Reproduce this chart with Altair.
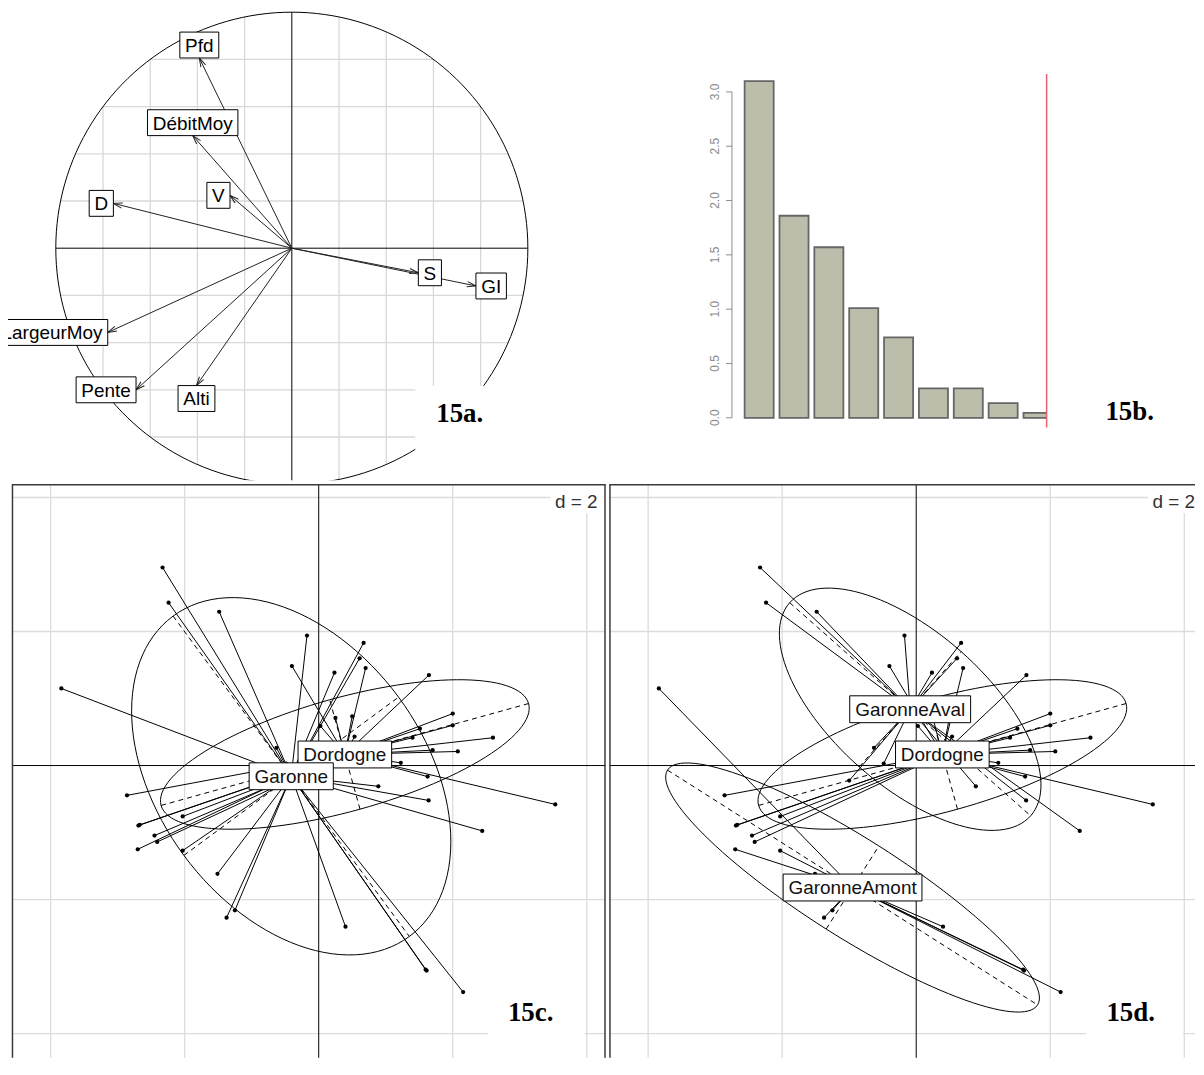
import altair as alt
import pandas as pd

SANS = "Liberation Sans"
SERIF = "Liberation Serif"
LABEL_PX = 19

# ---------------------------------------------------------------- 15a data
var_names = ["Pfd", "DébitMoy", "V", "D", "S", "GI", "LargeurMoy", "Pente", "Alti"]
var_x = [-0.392, -0.420, -0.262, -0.756, 0.536, 0.780, -0.780, -0.660, -0.404]
var_y = [0.806, 0.477, 0.224, 0.190, -0.104, -0.160, -0.357, -0.600, -0.582]
circle_radius = [1.0]
circle_grid = [-0.8, -0.6, -0.4, -0.2, 0.2, 0.4, 0.6, 0.8]
circle_axes = [0.0]

# ---------------------------------------------------------------- 15b data
eig_rank = [1, 2, 3, 4, 5, 6, 7, 8, 9]
eig_values = [3.10, 1.86, 1.57, 1.01, 0.74, 0.27, 0.27, 0.135, 0.045]
eig_ticks = [0.0, 0.5, 1.0, 1.5, 2.0, 2.5, 3.0]

# ---------------------------------------------------------------- 15c / 15d data
pt_x = [-2.33, -2.24, -1.485, -0.175, 0.67, 0.61, 0.70, -0.40, 0.235, 1.645,
        -3.84, 0.25, 0.50, 0.535, 0.025, 2.00, 2.00, 1.51, 1.40, 2.60,
        1.70, 2.075, 1.225, 1.625, 0.89, 1.64, 3.53, 2.44, -2.86, -2.69,
        -2.67, -2.03, -2.45, -2.41, -2.70, -2.03, -1.51, -1.375, -1.25, 0.40,
        1.61, 1.595, 2.155, -0.63, -0.485, -1.00]
pt_y = [2.955, 2.43, 2.295, 1.94, 1.83, 1.60, 1.455, 1.485, 1.385, 1.35,
        1.15, 0.71, 0.735, 0.433, 0.59, 0.775, 0.60, 0.55, 0.415, 0.415,
        0.23, 0.21, 0.04, -0.165, -0.31, -0.52, -0.58, -0.975, -0.445, -0.895,
        -0.885, -0.76, -1.045, -1.14, -1.25, -1.27, -1.615, -2.27, -2.16, -2.405,
        -3.06, -3.045, -3.38, 0.265, 0.03, -0.225]
AV, AM, DO = "GaronneAval", "GaronneAmont", "Dordogne"
pt_group = [AV, AV, AV, AV, AV, AV, DO, DO, AV, DO,
            AM, DO, DO, DO, DO, DO, DO, DO, DO, DO,
            DO, DO, DO, DO, AV, AV, DO, AV, DO, DO,
            DO, DO, DO, DO, AM, AM, AM, AM, AM, AM,
            AM, AM, AM, AV, AV, AV]

c2_names = ["Dordogne", "Garonne"]
c2_x = [0.39, -0.41]
c2_y = [0.165, -0.16]
c2_a = [2.845, 2.97]
c2_b = [0.847, 1.99]
c2_angle = [15.5, -53.6]

c3_names = ["Dordogne", "GaronneAmont", "GaronneAval"]
c3_x = [0.39, -0.95, -0.09]
c3_y = [0.165, -1.82, 0.84]
c3_a = [2.845, 3.27, 2.40]
c3_b = [0.847, 0.734, 1.148]
c3_angle = [15.5, -32.4, -41.5]

cd_grid = [-4, -2, 2, 4]
cd_axes = [0]
scale_note = ["d = 2"]
panel_tags = ["15a.", "15b.", "15c.", "15d."]

# ---------------------------------------------------------------- helpers
AFM = {" ": 278, "A": 667, "D": 722, "G": 778, "I": 278, "L": 556, "M": 833,
       "P": 667, "S": 667, "V": 667, "a": 556, "b": 556, "d": 556, "e": 556,
       "é": 556, "f": 278, "g": 556, "i": 222, "l": 222, "m": 833, "n": 556,
       "o": 556, "r": 333, "t": 278, "u": 556, "v": 500, "y": 500}


def box_w(s):
    return round(sum(AFM.get(ch, 556) for ch in " " + s + " ") * LABEL_PX / 1000.0, 1)


GRID_A = "#d8d8d8"
GRID_CD = "#dcdcdc"
FRAME = "#3a3a3a"
one = pd.DataFrame({"k": [0]})

# ================================================================ 15a
WA, HA = 532, 472
XA = alt.Scale(domain=[-1.2025, 1.042], nice=False, zero=False)
YA = alt.Scale(domain=[-0.9831, 1.0084], nice=False, zero=False)


def xa(f):
    return alt.X(f, scale=XA, axis=None)


def ya(f):
    return alt.Y(f, scale=YA, axis=None)


def chords(values, color, width):
    base = alt.Chart(pd.DataFrame({"g": values})).transform_calculate(
        hi="sqrt(1 - datum.g * datum.g)", lo="-sqrt(1 - datum.g * datum.g)")
    vert = base.mark_rule(color=color, strokeWidth=width, clip=True).encode(
        x=xa("g:Q"), y=ya("lo:Q"), y2="hi:Q")
    horiz = base.mark_rule(color=color, strokeWidth=width, clip=True).encode(
        y=ya("g:Q"), x=xa("lo:Q"), x2="hi:Q")
    return [vert, horiz]


circle = alt.Chart(pd.DataFrame({"r": circle_radius})).transform_calculate(
    t="sequence(0, 361, 2)").transform_flatten(["t"]).transform_calculate(
    cx="datum.r * cos(datum.t * PI / 180)", cy="datum.r * sin(datum.t * PI / 180)"
).mark_line(color="black", strokeWidth=1, clip=True).encode(
    x=xa("cx:Q"), y=ya("cy:Q"), order="t:Q")

vars_df = pd.DataFrame({"name": var_names, "x": var_x, "y": var_y,
                        "w": [box_w(n) for n in var_names]})
SIDE = ("abs(datum.x) > abs(datum.y) ? (datum.x > 0 ? 'right' : 'left') : "
        "(datum.y > 0 ? 'top' : 'bottom')")
PATH_A = ("'M' + (datum.side == 'right' ? 0 : (datum.side == 'left' ? -datum.w : -datum.w / 2)) + ',' + "
          "(datum.side == 'top' ? -26 : (datum.side == 'bottom' ? 0 : -13)) + "
          "'h' + datum.w + 'v26h' + (-datum.w) + 'z'")
vbase = alt.Chart(vars_df).transform_calculate(
    o="0", ang="(360 - atan2(datum.y, datum.x) * 180 / PI) % 360", side=SIDE)

arrows = vbase.mark_rule(color="#222222", strokeWidth=1, clip=True).encode(
    x=xa("o:Q"), y=ya("o:Q"), x2="x:Q", y2="y:Q")
heads = vbase.mark_point(shape="M-9,-2.6L0,0L-9,2.6", size=4, filled=False,
                         color="#222222", strokeWidth=1, opacity=1, clip=True).encode(
    x=xa("x:Q"), y=ya("y:Q"), angle=alt.Angle("ang:Q", scale=None))
boxes_a = vbase.transform_calculate(path=PATH_A).mark_point(
    filled=True, fill="white", stroke="black", strokeWidth=1, size=4, opacity=1,
    clip=True).encode(x=xa("x:Q"), y=ya("y:Q"), shape=alt.Shape("path:N", scale=None))

SIDE_TEXT = {"right": dict(align="left", dx=5.3, dy=1),
             "left": dict(align="right", dx=-5.3, dy=1),
             "top": dict(align="center", dy=-12),
             "bottom": dict(align="center", dy=14)}
texts_a = []
for side, kw in SIDE_TEXT.items():
    texts_a.append(vbase.transform_filter(f"datum.side == '{side}'").mark_text(
        font=SANS, fontSize=LABEL_PX, baseline="middle", color="black", clip=True, **kw
    ).encode(x=xa("x:Q"), y=ya("y:Q"), text="name:N"))

cover_a = alt.Chart(one).mark_rect(fill="white").encode(
    x=alt.value(409), x2=alt.value(WA), y=alt.value(377), y2=alt.value(HA))
tag_a = alt.Chart(pd.DataFrame({"s": [panel_tags[0]]})).mark_text(
    font=SERIF, fontSize=27, fontWeight="bold", align="left", baseline="alphabetic",
    color="black").encode(x=alt.value(430), y=alt.value(414), text="s:N")

panel_a = alt.layer(*chords(circle_grid, GRID_A, 1.3), *chords(circle_axes, "black", 1),
                    circle, arrows, heads, boxes_a, *texts_a, cover_a, tag_a
                    ).properties(width=WA, height=HA)

# ================================================================ 15b
WB, HB = 316, 419
XB = alt.Scale(domain=[-0.2366, 10.597], nice=False, zero=False)
YB = alt.Scale(domain=[-0.089, 3.752], nice=False, zero=False)
AXC = "#8c8c8c"

eig_df = pd.DataFrame({"k": eig_rank, "v": eig_values})
bars = alt.Chart(eig_df).transform_calculate(
    x0="1.2 * (datum.k - 1) + 0.2", x1="1.2 * (datum.k - 1) + 1.2", z="0"
).mark_rect(fill="#bdbdab", stroke="#666666", strokeWidth=1.8, clip=True).encode(
    x=alt.X("x0:Q", scale=XB, axis=None), x2="x1:Q",
    y=alt.Y("v:Q", scale=YB, axis=None), y2="z:Q")
ticks_df = pd.DataFrame({"t": eig_ticks})
axis_line = alt.Chart(pd.DataFrame({"lo": [min(eig_ticks)], "hi": [max(eig_ticks)]})).mark_rule(
    color=AXC, strokeWidth=1).encode(x=alt.value(0), y=alt.Y("lo:Q", scale=YB, axis=None), y2="hi:Q")
tick_marks = alt.Chart(ticks_df).mark_rule(color=AXC, strokeWidth=1).encode(
    y=alt.Y("t:Q", scale=YB, axis=None), x=alt.value(-6), x2=alt.value(0))
tick_text = alt.Chart(ticks_df).transform_calculate(lab="format(datum.t, '.1f')").mark_text(
    angle=270, align="center", baseline="middle", font=SANS, fontSize=12, color=AXC
).encode(y=alt.Y("t:Q", scale=YB, axis=None), x=alt.value(-17), text="lab:N")
red_line = alt.Chart(one).mark_rule(color="#e8606a", strokeWidth=1.5).encode(
    x=alt.value(WB), y=alt.value(64), y2=alt.value(HB))
tag_b = alt.Chart(pd.DataFrame({"s": [panel_tags[1]]})).mark_text(
    font=SERIF, fontSize=27, fontWeight="bold", align="left", baseline="alphabetic",
    color="black").encode(x=alt.value(375), y=alt.value(412), text="s:N")

panel_b = alt.layer(bars, axis_line, tick_marks, tick_text, red_line, tag_b
                    ).properties(width=WB, height=HB)

# ================================================================ 15c / 15d
H2 = 576
pts_df = pd.DataFrame({"x": pt_x, "y": pt_y, "grp": pt_group})


def class_panel(names, cx, cy, ea, eb, eang, group_expr, width, xdom, xleft, tag, tag_x, box_x):
    XS = alt.Scale(domain=xdom, nice=False, zero=False)
    YS = alt.Scale(domain=[-4.361, 4.198], nice=False, zero=False)

    def xs(f):
        return alt.X(f, scale=XS, axis=None)

    def ys(f):
        return alt.Y(f, scale=YS, axis=None)

    cent = pd.DataFrame({"name": names, "cx": cx, "cy": cy, "a": ea, "b": eb,
                         "ang": eang, "w": [box_w(n) for n in names]})
    gdf = pd.DataFrame({"g": cd_grid})
    adf = pd.DataFrame({"g": cd_axes})
    layers = [
        alt.Chart(gdf).mark_rule(color=GRID_CD, strokeWidth=1.3).encode(x=xs("g:Q")),
        alt.Chart(gdf).mark_rule(color=GRID_CD, strokeWidth=1.3).encode(
            y=ys("g:Q"), x=alt.value(xleft), x2=alt.value(width)),
        alt.Chart(adf).mark_rule(color="black", strokeWidth=1).encode(x=xs("g:Q")),
        alt.Chart(adf).mark_rule(color="black", strokeWidth=1).encode(
            y=ys("g:Q"), x=alt.value(xleft), x2=alt.value(width)),
    ]
    layers.append(alt.Chart(pts_df).transform_calculate(g=group_expr).transform_lookup(
        lookup="g", from_=alt.LookupData(data=cent, key="name", fields=["cx", "cy"])
    ).mark_rule(color="black", strokeWidth=1, clip=True).encode(
        x=xs("x:Q"), y=ys("y:Q"), x2="cx:Q", y2="cy:Q"))
    rad = "PI / 180"
    layers.append(alt.Chart(cent).transform_calculate(t="sequence(0, 361, 3)").transform_flatten(
        ["t"]).transform_calculate(
        ex=f"datum.cx + datum.a * cos(datum.t * {rad}) * cos(datum.ang * {rad}) - datum.b * sin(datum.t * {rad}) * sin(datum.ang * {rad})",
        ey=f"datum.cy + datum.a * cos(datum.t * {rad}) * sin(datum.ang * {rad}) + datum.b * sin(datum.t * {rad}) * cos(datum.ang * {rad})"
    ).mark_line(color="black", strokeWidth=1, clip=True).encode(
        x=xs("ex:Q"), y=ys("ey:Q"), detail="name:N", order="t:Q"))
    layers.append(alt.Chart(cent).transform_calculate(
        x0=f"datum.cx - datum.a * cos(datum.ang * {rad})", x1=f"datum.cx + datum.a * cos(datum.ang * {rad})",
        y0=f"datum.cy - datum.a * sin(datum.ang * {rad})", y1=f"datum.cy + datum.a * sin(datum.ang * {rad})"
    ).mark_rule(color="black", strokeWidth=1, strokeDash=[5, 4], clip=True).encode(
        x=xs("x0:Q"), x2="x1:Q", y=ys("y0:Q"), y2="y1:Q"))
    layers.append(alt.Chart(cent).transform_calculate(
        x0=f"datum.cx + datum.b * sin(datum.ang * {rad})", x1=f"datum.cx - datum.b * sin(datum.ang * {rad})",
        y0=f"datum.cy - datum.b * cos(datum.ang * {rad})", y1=f"datum.cy + datum.b * cos(datum.ang * {rad})"
    ).mark_rule(color="black", strokeWidth=1, strokeDash=[5, 4], clip=True).encode(
        x=xs("x0:Q"), x2="x1:Q", y=ys("y0:Q"), y2="y1:Q"))
    layers.append(alt.Chart(pts_df).mark_circle(size=18, color="black", opacity=1, clip=True).encode(
        x=xs("x:Q"), y=ys("y:Q")))
    layers.append(alt.Chart(cent).transform_calculate(
        path="'M' + (-datum.w / 2) + ',-13.5h' + datum.w + 'v27h' + (-datum.w) + 'z'"
    ).mark_point(filled=True, fill="white", stroke="black", strokeWidth=1, size=4, opacity=1,
                 clip=True).encode(x=xs("cx:Q"), y=ys("cy:Q"), shape=alt.Shape("path:N", scale=None)))
    layers.append(alt.Chart(cent).mark_text(font=SANS, fontSize=LABEL_PX, align="center",
                                            baseline="middle", dy=1, color="#111111", clip=True).encode(
        x=xs("cx:Q"), y=ys("cy:Q"), text="name:N"))
    layers.append(alt.Chart(one).mark_rect(fill="white").encode(
        x=alt.value(box_x), x2=alt.value(width), y=alt.value(0), y2=alt.value(29)))
    layers.append(alt.Chart(pd.DataFrame({"s": scale_note})).mark_text(
        font=SANS, fontSize=LABEL_PX, align="right", baseline="alphabetic", color="#333333"
    ).encode(x=alt.value(box_x + 47), y=alt.value(23.5), text="s:N"))
    layers.append(alt.Chart(one).mark_rect(fill="white").encode(
        x=alt.value(tag_x - 20), x2=alt.value(tag_x + 77), y=alt.value(502), y2=alt.value(565)))
    layers.append(alt.Chart(pd.DataFrame({"s": [tag]})).mark_text(
        font=SERIF, fontSize=27, fontWeight="bold", align="left", baseline="alphabetic",
        color="black").encode(x=alt.value(tag_x), y=alt.value(539), text="s:N"))
    layers.append(alt.Chart(one).mark_rule(color=FRAME, strokeWidth=1.5).encode(
        x=alt.value(xleft), x2=alt.value(width), y=alt.value(0.5)))
    layers.append(alt.Chart(one).mark_rule(color=FRAME, strokeWidth=1.5).encode(
        x=alt.value(xleft + 0.5), y=alt.value(0), y2=alt.value(H2)))
    if xleft > 0:
        layers.append(alt.Chart(one).mark_rule(color=FRAME, strokeWidth=1.5).encode(
            x=alt.value(width - 0.5), y=alt.value(0), y2=alt.value(H2)))
    return alt.layer(*layers).properties(width=width, height=H2)


panel_c = class_panel(c2_names, c2_x, c2_y, c2_a, c2_b, c2_angle,
                      "indexof(datum.grp, 'Garonne') == 0 ? 'Garonne' : datum.grp",
                      600, [-4.636, 4.279], 4, panel_tags[2], 502, 545)
panel_d = class_panel(c3_names, c3_x, c3_y, c3_a, c3_b, c3_angle,
                      "datum.grp", 588, [-4.577, 4.160], 0, panel_tags[3], 499, 541)

top = alt.hconcat(panel_a, panel_b, spacing=195, bounds="flush")
bottom = alt.hconcat(panel_c, panel_d, spacing=4, bounds="flush")
chart = alt.vconcat(top, bottom, spacing=3, padding=0,
                    background="white").configure_view(stroke=None)

chart.save("out.html", embed_options={"renderer": "svg", "actions": False})
